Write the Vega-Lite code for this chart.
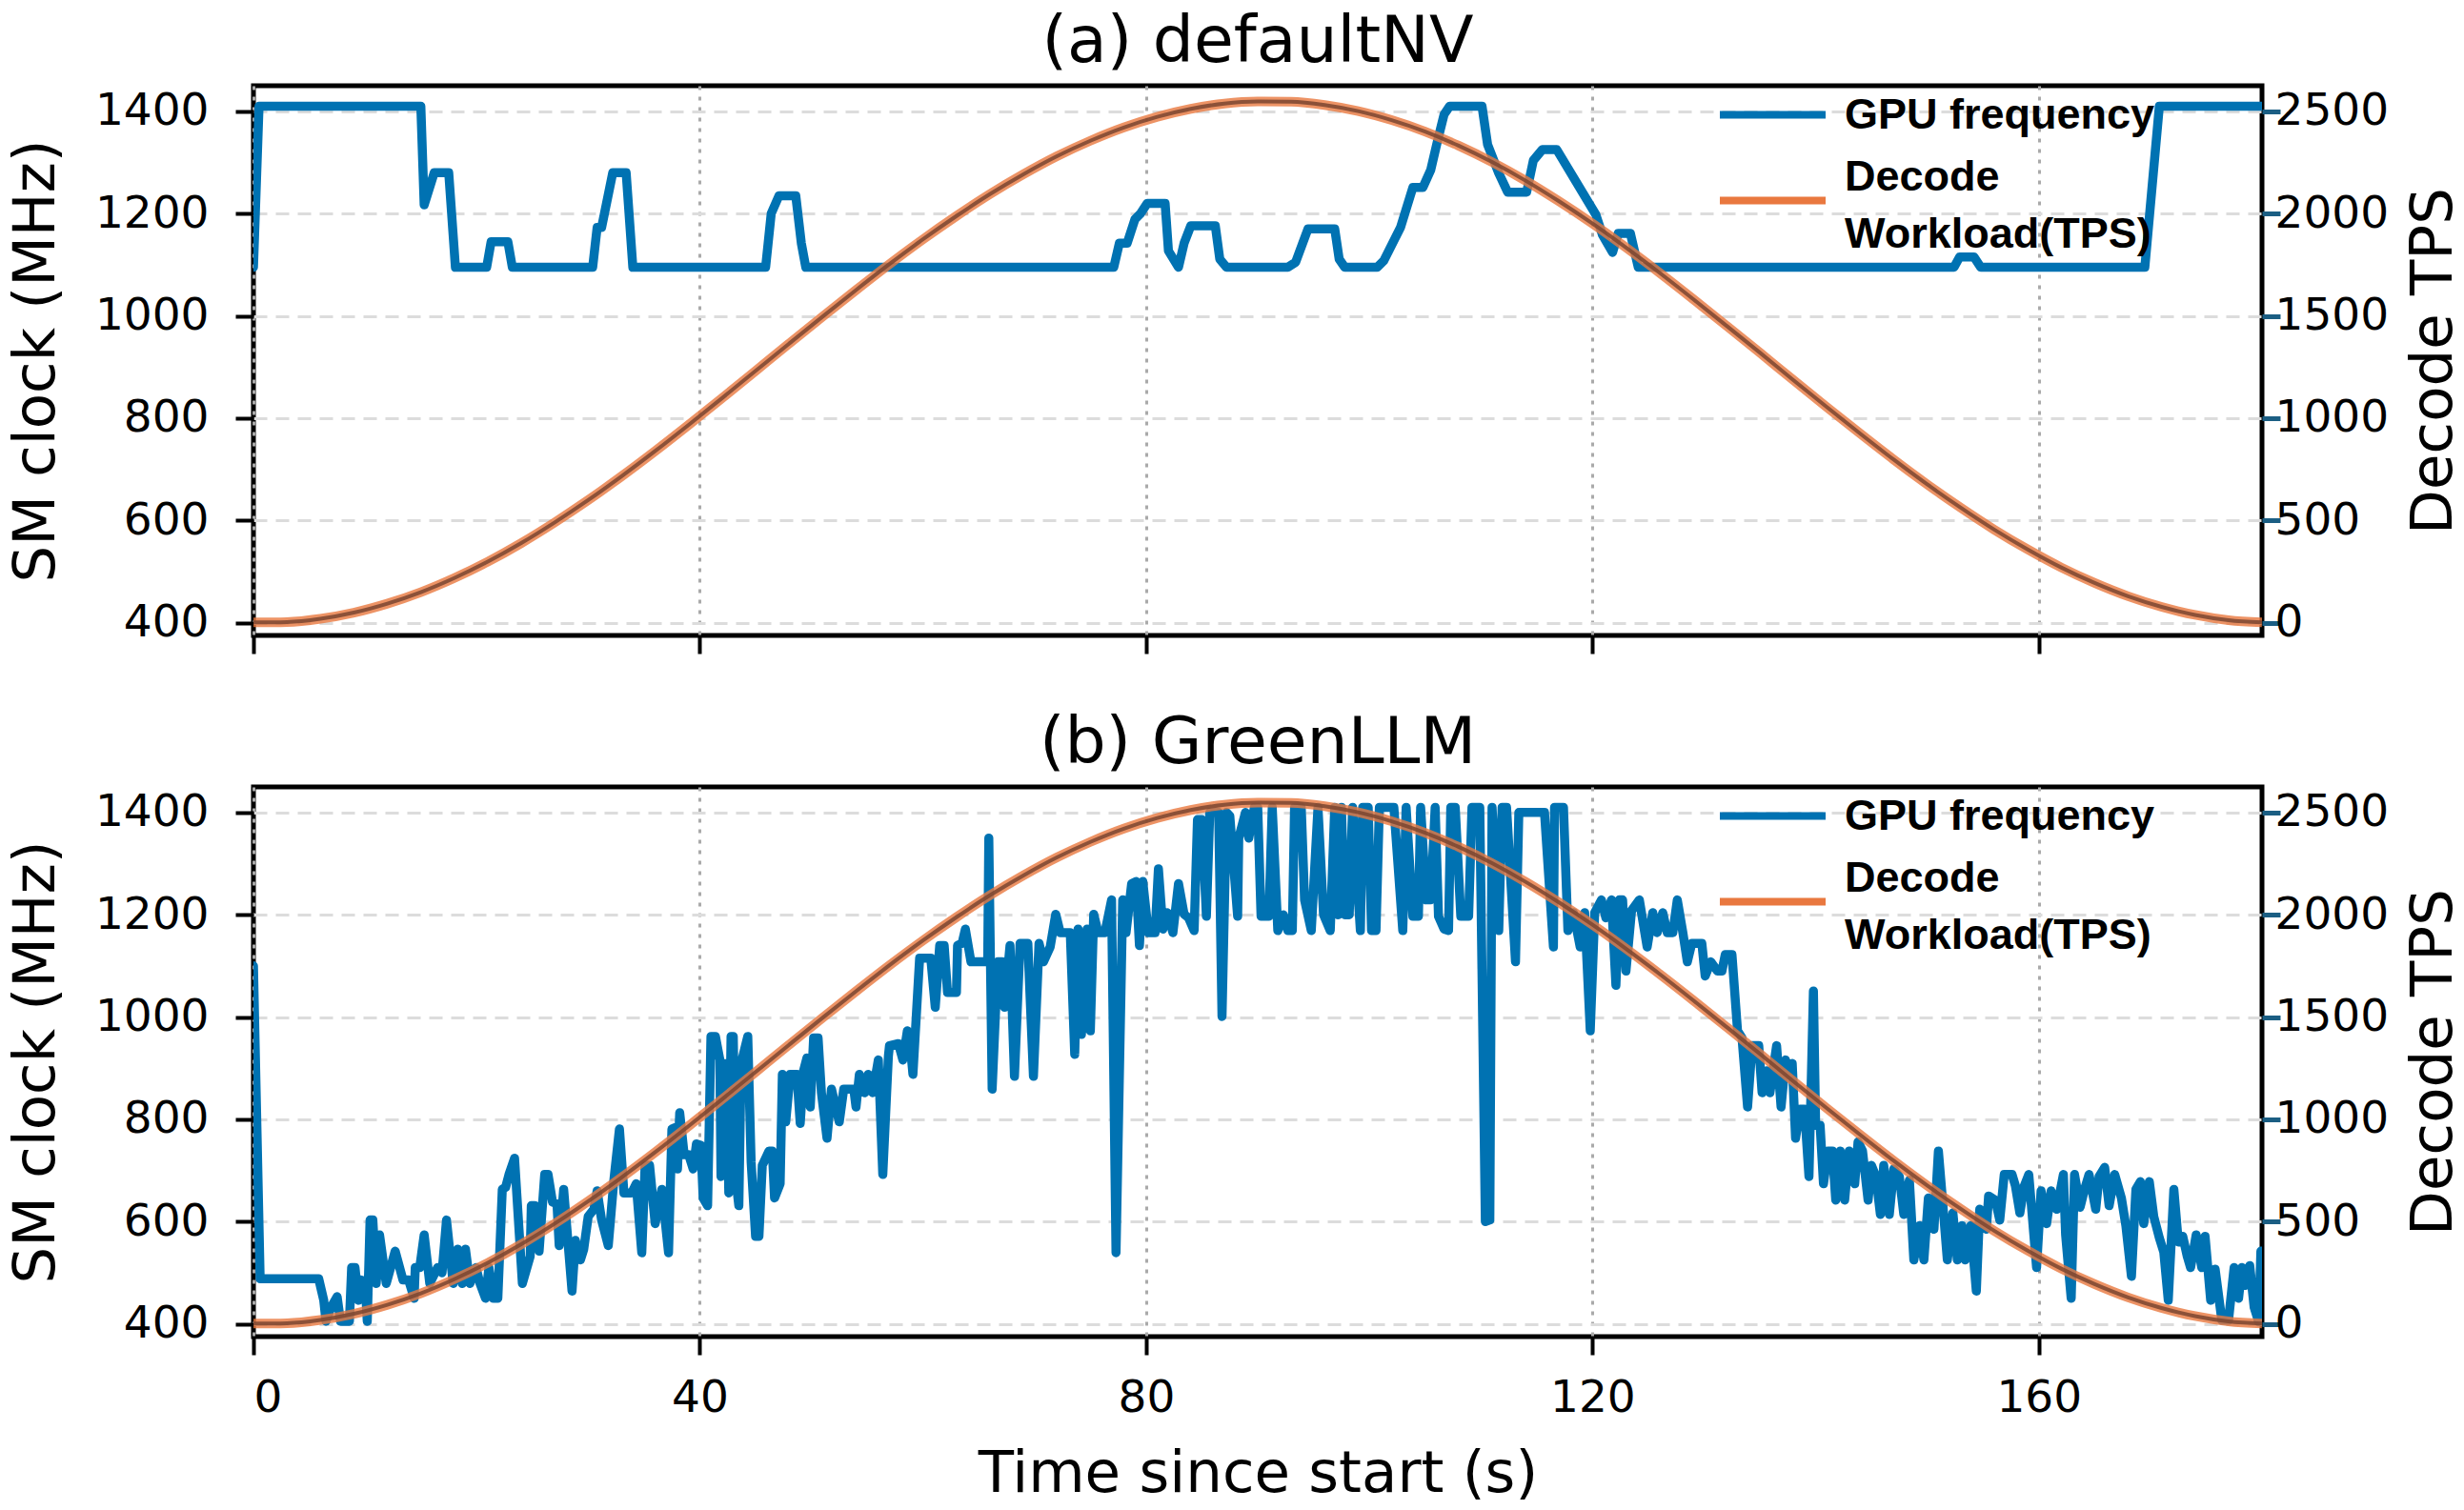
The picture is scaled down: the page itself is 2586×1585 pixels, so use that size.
{
  "$schema": "https://vega.github.io/schema/vega-lite/v6.json",
  "background": "white",
  "padding": {"left": 4, "top": 8, "right": 2, "bottom": 2},
  "config": {
    "font": "DejaVu Sans",
    "view": {"stroke": "black", "strokeWidth": 5},
    "axis": {"labelFont": "DejaVu Sans", "labelFontSize": 47, "labelColor": "black", "titleFont": "DejaVu Sans", "titleFontSize": 61, "titleFontWeight": "normal", "titleColor": "black", "tickColor": "black", "tickWidth": 4, "tickSize": 19, "domain": false, "format": "d"},
    "title": {"font": "DejaVu Sans", "fontSize": 68, "fontWeight": "normal", "color": "black", "frame": "group", "anchor": "middle", "baseline": "alphabetic", "offset": -18}
  },
  "datasets": {
    "a": [
      {"t": 0, "mhz": 1095}, {"t": 0.5, "mhz": 1410}, {"t": 15, "mhz": 1410}, {"t": 15.3, "mhz": 1217}, {"t": 16.2, "mhz": 1280}, {"t": 17.5, "mhz": 1280}, {"t": 18.1, "mhz": 1095}, {"t": 20.9, "mhz": 1095}, {"t": 21.3, "mhz": 1145}, {"t": 22.8, "mhz": 1145}, {"t": 23.2, "mhz": 1095}, {"t": 30.4, "mhz": 1095}, {"t": 30.8, "mhz": 1173}, {"t": 31.2, "mhz": 1173}, {"t": 32.2, "mhz": 1280}, {"t": 33.4, "mhz": 1280}, {"t": 34, "mhz": 1095}, {"t": 45.9, "mhz": 1095}, {"t": 46.4, "mhz": 1200}, {"t": 47.1, "mhz": 1235}, {"t": 48.6, "mhz": 1235}, {"t": 49.1, "mhz": 1142}, {"t": 49.5, "mhz": 1095}, {"t": 77.1, "mhz": 1095}, {"t": 77.6, "mhz": 1142}, {"t": 78.3, "mhz": 1142}, {"t": 79.0, "mhz": 1189}, {"t": 79.5, "mhz": 1200}, {"t": 80.1, "mhz": 1220}, {"t": 81.7, "mhz": 1220}, {"t": 82.0, "mhz": 1127}, {"t": 82.9, "mhz": 1095}, {"t": 83.4, "mhz": 1142}, {"t": 84.0, "mhz": 1176}, {"t": 86.2, "mhz": 1176}, {"t": 86.6, "mhz": 1111}, {"t": 87.2, "mhz": 1095}, {"t": 92.7, "mhz": 1095}, {"t": 93.4, "mhz": 1105}, {"t": 94.5, "mhz": 1170}, {"t": 96.9, "mhz": 1170}, {"t": 97.3, "mhz": 1111}, {"t": 97.8, "mhz": 1095}, {"t": 100.7, "mhz": 1095}, {"t": 101.3, "mhz": 1108}, {"t": 102.8, "mhz": 1173}, {"t": 103.9, "mhz": 1251}, {"t": 104.8, "mhz": 1251}, {"t": 105.5, "mhz": 1285}, {"t": 106.1, "mhz": 1341}, {"t": 106.7, "mhz": 1394}, {"t": 107.2, "mhz": 1410}, {"t": 110.1, "mhz": 1410}, {"t": 110.6, "mhz": 1335}, {"t": 111.6, "mhz": 1279}, {"t": 112.4, "mhz": 1242}, {"t": 114.1, "mhz": 1242}, {"t": 114.7, "mhz": 1304}, {"t": 115.5, "mhz": 1325}, {"t": 116.8, "mhz": 1325}, {"t": 120.3, "mhz": 1198}, {"t": 120.9, "mhz": 1158}, {"t": 121.8, "mhz": 1124}, {"t": 122.3, "mhz": 1161}, {"t": 123.4, "mhz": 1161}, {"t": 124.1, "mhz": 1095}, {"t": 152.4, "mhz": 1095}, {"t": 152.9, "mhz": 1115}, {"t": 154.2, "mhz": 1115}, {"t": 154.8, "mhz": 1095}, {"t": 169.5, "mhz": 1095}, {"t": 170.8, "mhz": 1410}, {"t": 180, "mhz": 1410}
    ],
    "b": [
      {"t": 0, "mhz": 1100}, {"t": 0.6, "mhz": 488}, {"t": 5.85, "mhz": 488}, {"t": 6.3, "mhz": 446}, {"t": 6.5, "mhz": 405}, {"t": 6.95, "mhz": 432}, {"t": 7.5, "mhz": 453}, {"t": 7.8, "mhz": 405}, {"t": 8.6, "mhz": 405}, {"t": 8.8, "mhz": 510}, {"t": 9.1, "mhz": 510}, {"t": 9.4, "mhz": 446}, {"t": 9.6, "mhz": 486}, {"t": 10.0, "mhz": 483}, {"t": 10.2, "mhz": 405}, {"t": 10.45, "mhz": 603}, {"t": 10.7, "mhz": 603}, {"t": 11.0, "mhz": 479}, {"t": 11.3, "mhz": 574}, {"t": 11.9, "mhz": 479}, {"t": 12.7, "mhz": 542}, {"t": 13.4, "mhz": 486}, {"t": 13.9, "mhz": 486}, {"t": 14.4, "mhz": 450}, {"t": 14.5, "mhz": 510}, {"t": 14.9, "mhz": 510}, {"t": 15.3, "mhz": 574}, {"t": 15.8, "mhz": 479}, {"t": 16.5, "mhz": 510}, {"t": 16.9, "mhz": 500}, {"t": 17.3, "mhz": 603}, {"t": 17.9, "mhz": 479}, {"t": 18.3, "mhz": 546}, {"t": 18.7, "mhz": 479}, {"t": 19.0, "mhz": 546}, {"t": 19.4, "mhz": 479}, {"t": 19.95, "mhz": 510}, {"t": 20.3, "mhz": 479}, {"t": 20.8, "mhz": 450}, {"t": 21.1, "mhz": 510}, {"t": 21.5, "mhz": 450}, {"t": 21.9, "mhz": 450}, {"t": 22.3, "mhz": 663}, {"t": 22.6, "mhz": 667}, {"t": 22.9, "mhz": 692}, {"t": 23.4, "mhz": 724}, {"t": 24.1, "mhz": 479}, {"t": 24.8, "mhz": 532}, {"t": 24.9, "mhz": 631}, {"t": 25.2, "mhz": 631}, {"t": 25.6, "mhz": 542}, {"t": 26.1, "mhz": 692}, {"t": 26.4, "mhz": 692}, {"t": 26.8, "mhz": 638}, {"t": 27.2, "mhz": 635}, {"t": 27.4, "mhz": 553}, {"t": 27.8, "mhz": 663}, {"t": 28.55, "mhz": 464}, {"t": 28.85, "mhz": 563}, {"t": 29.3, "mhz": 525}, {"t": 29.6, "mhz": 546}, {"t": 30.0, "mhz": 610}, {"t": 30.5, "mhz": 624}, {"t": 30.8, "mhz": 660}, {"t": 31.2, "mhz": 603}, {"t": 31.8, "mhz": 553}, {"t": 32.3, "mhz": 681}, {"t": 32.8, "mhz": 781}, {"t": 33.2, "mhz": 656}, {"t": 33.9, "mhz": 656}, {"t": 34.3, "mhz": 674}, {"t": 34.8, "mhz": 539}, {"t": 35.1, "mhz": 710}, {"t": 35.5, "mhz": 710}, {"t": 36.0, "mhz": 596}, {"t": 36.6, "mhz": 663}, {"t": 37.2, "mhz": 539}, {"t": 37.5, "mhz": 781}, {"t": 37.8, "mhz": 784}, {"t": 38.0, "mhz": 703}, {"t": 38.2, "mhz": 813}, {"t": 38.6, "mhz": 731}, {"t": 39.0, "mhz": 731}, {"t": 39.4, "mhz": 703}, {"t": 39.7, "mhz": 752}, {"t": 40.1, "mhz": 749}, {"t": 40.3, "mhz": 646}, {"t": 40.7, "mhz": 631}, {"t": 41.0, "mhz": 962}, {"t": 41.4, "mhz": 962}, {"t": 41.8, "mhz": 916}, {"t": 41.9, "mhz": 688}, {"t": 42.1, "mhz": 909}, {"t": 42.4, "mhz": 909}, {"t": 42.6, "mhz": 656}, {"t": 42.8, "mhz": 962}, {"t": 43.0, "mhz": 962}, {"t": 43.2, "mhz": 688}, {"t": 43.5, "mhz": 631}, {"t": 43.7, "mhz": 909}, {"t": 44.3, "mhz": 962}, {"t": 44.6, "mhz": 717}, {"t": 45.0, "mhz": 571}, {"t": 45.3, "mhz": 571}, {"t": 45.6, "mhz": 710}, {"t": 46.2, "mhz": 738}, {"t": 46.5, "mhz": 738}, {"t": 46.7, "mhz": 646}, {"t": 47.2, "mhz": 674}, {"t": 47.4, "mhz": 888}, {"t": 47.7, "mhz": 795}, {"t": 48.1, "mhz": 888}, {"t": 48.7, "mhz": 888}, {"t": 49.0, "mhz": 792}, {"t": 49.3, "mhz": 895}, {"t": 49.6, "mhz": 920}, {"t": 49.9, "mhz": 824}, {"t": 50.2, "mhz": 959}, {"t": 50.6, "mhz": 959}, {"t": 50.9, "mhz": 852}, {"t": 51.4, "mhz": 763}, {"t": 51.8, "mhz": 859}, {"t": 52.5, "mhz": 795}, {"t": 52.9, "mhz": 859}, {"t": 53.8, "mhz": 859}, {"t": 54.0, "mhz": 824}, {"t": 54.3, "mhz": 888}, {"t": 54.8, "mhz": 852}, {"t": 55.1, "mhz": 888}, {"t": 55.5, "mhz": 852}, {"t": 56.0, "mhz": 916}, {"t": 56.4, "mhz": 692}, {"t": 56.9, "mhz": 923}, {"t": 57.0, "mhz": 944}, {"t": 57.8, "mhz": 948}, {"t": 58.2, "mhz": 916}, {"t": 58.6, "mhz": 973}, {"t": 58.8, "mhz": 959}, {"t": 59.1, "mhz": 888}, {"t": 59.7, "mhz": 1115}, {"t": 60.7, "mhz": 1115}, {"t": 61.1, "mhz": 1019}, {"t": 61.5, "mhz": 1140}, {"t": 61.9, "mhz": 1140}, {"t": 62.2, "mhz": 1048}, {"t": 63.0, "mhz": 1048}, {"t": 63.1, "mhz": 1140}, {"t": 63.5, "mhz": 1144}, {"t": 63.8, "mhz": 1172}, {"t": 64.3, "mhz": 1108}, {"t": 65.8, "mhz": 1108}, {"t": 65.9, "mhz": 1350}, {"t": 66.2, "mhz": 859}, {"t": 66.7, "mhz": 1108}, {"t": 67.1, "mhz": 1108}, {"t": 67.3, "mhz": 1019}, {"t": 67.8, "mhz": 1140}, {"t": 68.2, "mhz": 884}, {"t": 68.7, "mhz": 1144}, {"t": 69.4, "mhz": 1144}, {"t": 69.9, "mhz": 884}, {"t": 70.4, "mhz": 1144}, {"t": 70.8, "mhz": 1108}, {"t": 71.4, "mhz": 1137}, {"t": 71.9, "mhz": 1201}, {"t": 72.3, "mhz": 1165}, {"t": 73.2, "mhz": 1165}, {"t": 73.6, "mhz": 927}, {"t": 73.9, "mhz": 1172}, {"t": 74.2, "mhz": 966}, {"t": 74.7, "mhz": 1172}, {"t": 75.0, "mhz": 973}, {"t": 75.3, "mhz": 1201}, {"t": 75.7, "mhz": 1165}, {"t": 76.3, "mhz": 1165}, {"t": 76.9, "mhz": 1229}, {"t": 77.3, "mhz": 539}, {"t": 77.9, "mhz": 1229}, {"t": 78.2, "mhz": 1165}, {"t": 78.7, "mhz": 1261}, {"t": 79.1, "mhz": 1265}, {"t": 79.4, "mhz": 1140}, {"t": 79.7, "mhz": 1265}, {"t": 80.2, "mhz": 1165}, {"t": 80.8, "mhz": 1165}, {"t": 81.1, "mhz": 1290}, {"t": 81.5, "mhz": 1172}, {"t": 81.9, "mhz": 1204}, {"t": 82.4, "mhz": 1165}, {"t": 82.9, "mhz": 1261}, {"t": 83.4, "mhz": 1201}, {"t": 83.8, "mhz": 1194}, {"t": 84.3, "mhz": 1169}, {"t": 84.6, "mhz": 1386}, {"t": 85.0, "mhz": 1386}, {"t": 85.4, "mhz": 1197}, {"t": 85.7, "mhz": 1400}, {"t": 86.5, "mhz": 1400}, {"t": 86.8, "mhz": 1001}, {"t": 87.2, "mhz": 1400}, {"t": 87.5, "mhz": 1393}, {"t": 88.2, "mhz": 1197}, {"t": 88.3, "mhz": 1350}, {"t": 88.9, "mhz": 1400}, {"t": 89.2, "mhz": 1350}, {"t": 89.7, "mhz": 1410}, {"t": 90.0, "mhz": 1410}, {"t": 90.3, "mhz": 1197}, {"t": 91.0, "mhz": 1197}, {"t": 91.3, "mhz": 1410}, {"t": 91.8, "mhz": 1169}, {"t": 92.3, "mhz": 1200}, {"t": 92.7, "mhz": 1169}, {"t": 93.1, "mhz": 1169}, {"t": 93.3, "mhz": 1410}, {"t": 93.9, "mhz": 1410}, {"t": 94.2, "mhz": 1229}, {"t": 94.8, "mhz": 1169}, {"t": 95.4, "mhz": 1410}, {"t": 95.9, "mhz": 1200}, {"t": 96.5, "mhz": 1169}, {"t": 96.9, "mhz": 1410}, {"t": 97.2, "mhz": 1200}, {"t": 97.5, "mhz": 1410}, {"t": 97.8, "mhz": 1200}, {"t": 98.2, "mhz": 1200}, {"t": 98.5, "mhz": 1410}, {"t": 99.2, "mhz": 1169}, {"t": 99.4, "mhz": 1410}, {"t": 99.9, "mhz": 1410}, {"t": 100.2, "mhz": 1169}, {"t": 100.6, "mhz": 1169}, {"t": 100.9, "mhz": 1410}, {"t": 102.2, "mhz": 1410}, {"t": 103.0, "mhz": 1169}, {"t": 103.3, "mhz": 1410}, {"t": 103.9, "mhz": 1197}, {"t": 104.4, "mhz": 1197}, {"t": 104.6, "mhz": 1410}, {"t": 105.1, "mhz": 1229}, {"t": 105.5, "mhz": 1229}, {"t": 105.9, "mhz": 1410}, {"t": 106.2, "mhz": 1197}, {"t": 106.7, "mhz": 1172}, {"t": 107.1, "mhz": 1169}, {"t": 107.3, "mhz": 1410}, {"t": 107.7, "mhz": 1410}, {"t": 108.2, "mhz": 1197}, {"t": 108.9, "mhz": 1197}, {"t": 109.2, "mhz": 1410}, {"t": 109.9, "mhz": 1410}, {"t": 110.4, "mhz": 600}, {"t": 110.8, "mhz": 603}, {"t": 111.0, "mhz": 1410}, {"t": 111.6, "mhz": 1169}, {"t": 111.9, "mhz": 1410}, {"t": 112.3, "mhz": 1410}, {"t": 113.1, "mhz": 1108}, {"t": 113.4, "mhz": 1400}, {"t": 115.7, "mhz": 1400}, {"t": 116.5, "mhz": 1137}, {"t": 116.6, "mhz": 1410}, {"t": 117.4, "mhz": 1410}, {"t": 117.8, "mhz": 1169}, {"t": 118.3, "mhz": 1204}, {"t": 118.9, "mhz": 1137}, {"t": 119.3, "mhz": 1204}, {"t": 119.8, "mhz": 973}, {"t": 120.2, "mhz": 1204}, {"t": 120.8, "mhz": 1229}, {"t": 121.2, "mhz": 1194}, {"t": 121.7, "mhz": 1229}, {"t": 122.1, "mhz": 1062}, {"t": 122.4, "mhz": 1229}, {"t": 122.7, "mhz": 1229}, {"t": 123.0, "mhz": 1090}, {"t": 123.5, "mhz": 1208}, {"t": 124.2, "mhz": 1229}, {"t": 124.9, "mhz": 1137}, {"t": 125.4, "mhz": 1204}, {"t": 125.8, "mhz": 1165}, {"t": 126.3, "mhz": 1204}, {"t": 126.7, "mhz": 1165}, {"t": 127.2, "mhz": 1165}, {"t": 127.6, "mhz": 1229}, {"t": 128.1, "mhz": 1165}, {"t": 128.5, "mhz": 1108}, {"t": 128.9, "mhz": 1144}, {"t": 129.8, "mhz": 1144}, {"t": 130.1, "mhz": 1080}, {"t": 130.6, "mhz": 1108}, {"t": 131.2, "mhz": 1090}, {"t": 131.6, "mhz": 1090}, {"t": 131.9, "mhz": 1122}, {"t": 132.5, "mhz": 1122}, {"t": 133.0, "mhz": 973}, {"t": 133.4, "mhz": 959}, {"t": 133.9, "mhz": 824}, {"t": 134.3, "mhz": 944}, {"t": 134.9, "mhz": 944}, {"t": 135.2, "mhz": 852}, {"t": 135.6, "mhz": 895}, {"t": 135.9, "mhz": 852}, {"t": 136.5, "mhz": 944}, {"t": 136.9, "mhz": 824}, {"t": 137.3, "mhz": 916}, {"t": 137.6, "mhz": 888}, {"t": 137.9, "mhz": 909}, {"t": 138.2, "mhz": 763}, {"t": 138.6, "mhz": 820}, {"t": 139.0, "mhz": 820}, {"t": 139.4, "mhz": 688}, {"t": 139.8, "mhz": 1051}, {"t": 140.0, "mhz": 788}, {"t": 140.4, "mhz": 788}, {"t": 140.7, "mhz": 674}, {"t": 141.1, "mhz": 738}, {"t": 141.5, "mhz": 738}, {"t": 141.8, "mhz": 642}, {"t": 142.2, "mhz": 738}, {"t": 142.6, "mhz": 642}, {"t": 143.0, "mhz": 738}, {"t": 143.5, "mhz": 674}, {"t": 143.8, "mhz": 756}, {"t": 144.2, "mhz": 738}, {"t": 144.7, "mhz": 642}, {"t": 145.0, "mhz": 710}, {"t": 145.4, "mhz": 688}, {"t": 145.8, "mhz": 614}, {"t": 146.1, "mhz": 710}, {"t": 146.6, "mhz": 614}, {"t": 147.0, "mhz": 703}, {"t": 147.5, "mhz": 688}, {"t": 147.9, "mhz": 614}, {"t": 148.4, "mhz": 681}, {"t": 148.8, "mhz": 525}, {"t": 149.3, "mhz": 592}, {"t": 149.7, "mhz": 525}, {"t": 150.1, "mhz": 646}, {"t": 150.6, "mhz": 585}, {"t": 151.0, "mhz": 738}, {"t": 151.3, "mhz": 660}, {"t": 151.8, "mhz": 525}, {"t": 152.3, "mhz": 617}, {"t": 152.7, "mhz": 525}, {"t": 153.1, "mhz": 592}, {"t": 153.4, "mhz": 525}, {"t": 153.9, "mhz": 592}, {"t": 154.4, "mhz": 464}, {"t": 154.7, "mhz": 624}, {"t": 155.3, "mhz": 585}, {"t": 155.5, "mhz": 650}, {"t": 156.1, "mhz": 642}, {"t": 156.5, "mhz": 603}, {"t": 156.9, "mhz": 692}, {"t": 157.6, "mhz": 692}, {"t": 157.9, "mhz": 670}, {"t": 158.3, "mhz": 617}, {"t": 158.7, "mhz": 670}, {"t": 159.1, "mhz": 692}, {"t": 159.4, "mhz": 614}, {"t": 159.8, "mhz": 510}, {"t": 160.2, "mhz": 660}, {"t": 160.7, "mhz": 596}, {"t": 161.1, "mhz": 660}, {"t": 161.6, "mhz": 624}, {"t": 162.2, "mhz": 692}, {"t": 162.4, "mhz": 574}, {"t": 162.9, "mhz": 450}, {"t": 163.2, "mhz": 692}, {"t": 163.7, "mhz": 628}, {"t": 164.1, "mhz": 663}, {"t": 164.5, "mhz": 692}, {"t": 165.1, "mhz": 624}, {"t": 165.4, "mhz": 688}, {"t": 165.9, "mhz": 706}, {"t": 166.3, "mhz": 631}, {"t": 166.8, "mhz": 692}, {"t": 167.4, "mhz": 646}, {"t": 167.8, "mhz": 592}, {"t": 168.3, "mhz": 493}, {"t": 168.7, "mhz": 663}, {"t": 169.1, "mhz": 678}, {"t": 169.4, "mhz": 596}, {"t": 169.9, "mhz": 678}, {"t": 170.3, "mhz": 610}, {"t": 170.8, "mhz": 568}, {"t": 171.2, "mhz": 540}, {"t": 171.6, "mhz": 446}, {"t": 172.1, "mhz": 663}, {"t": 172.5, "mhz": 560}, {"t": 172.9, "mhz": 571}, {"t": 173.3, "mhz": 532}, {"t": 173.6, "mhz": 510}, {"t": 174.1, "mhz": 574}, {"t": 174.6, "mhz": 510}, {"t": 174.9, "mhz": 571}, {"t": 175.4, "mhz": 446}, {"t": 175.8, "mhz": 507}, {"t": 176.4, "mhz": 407}, {"t": 177.0, "mhz": 407}, {"t": 177.5, "mhz": 510}, {"t": 177.9, "mhz": 450}, {"t": 178.2, "mhz": 510}, {"t": 178.5, "mhz": 475}, {"t": 178.9, "mhz": 514}, {"t": 179.3, "mhz": 432}, {"t": 179.7, "mhz": 404}, {"t": 179.9, "mhz": 542}, {"t": 180, "mhz": 542}
    ],
    "tps": [
      {"t": 0, "tps": 1}, {"t": 3, "tps": 3}, {"t": 6, "tps": 19}, {"t": 9, "tps": 49}, {"t": 12, "tps": 93}, {"t": 15, "tps": 149}, {"t": 18, "tps": 218}, {"t": 21, "tps": 298}, {"t": 24, "tps": 389}, {"t": 27, "tps": 490}, {"t": 30, "tps": 599}, {"t": 33, "tps": 716}, {"t": 36, "tps": 839}, {"t": 39, "tps": 967}, {"t": 42, "tps": 1098}, {"t": 45, "tps": 1231}, {"t": 48, "tps": 1364}, {"t": 51, "tps": 1496}, {"t": 54, "tps": 1626}, {"t": 57, "tps": 1753}, {"t": 60, "tps": 1874}, {"t": 63, "tps": 1988}, {"t": 66, "tps": 2095}, {"t": 69, "tps": 2192}, {"t": 72, "tps": 2280}, {"t": 75, "tps": 2356}, {"t": 78, "tps": 2421}, {"t": 81, "tps": 2473}, {"t": 84, "tps": 2512}, {"t": 87, "tps": 2538}, {"t": 90, "tps": 2548}, {"t": 93, "tps": 2547}, {"t": 96, "tps": 2531}, {"t": 99, "tps": 2501}, {"t": 102, "tps": 2457}, {"t": 105, "tps": 2401}, {"t": 108, "tps": 2332}, {"t": 111, "tps": 2252}, {"t": 114, "tps": 2161}, {"t": 117, "tps": 2060}, {"t": 120, "tps": 1951}, {"t": 123, "tps": 1834}, {"t": 126, "tps": 1711}, {"t": 129, "tps": 1583}, {"t": 132, "tps": 1452}, {"t": 135, "tps": 1320}, {"t": 138, "tps": 1186}, {"t": 141, "tps": 1054}, {"t": 144, "tps": 924}, {"t": 147, "tps": 797}, {"t": 150, "tps": 676}, {"t": 153, "tps": 562}, {"t": 156, "tps": 455}, {"t": 159, "tps": 358}, {"t": 162, "tps": 270}, {"t": 165, "tps": 194}, {"t": 168, "tps": 129}, {"t": 171, "tps": 77}, {"t": 174, "tps": 38}, {"t": 177, "tps": 12}, {"t": 180, "tps": 1}
    ]
  },
  "spacing": 53,
  "resolve": {"scale": {"color": "independent"}, "legend": {"color": "independent"}},
  "vconcat": [
    {
      "title": {"text": "(a) defaultNV"},
      "width": 2108,
      "height": 577,
      "resolve": {"scale": {"y": "independent"}},
      "layer": [
        {
          "data": {"name": "a"},
          "mark": {"type": "line", "strokeWidth": 9.5, "strokeJoin": "round", "strokeCap": "round", "clip": true},
          "encoding": {
            "x": {"field": "t", "type": "quantitative", "scale": {"domain": [0, 180], "nice": false, "zero": false}, "axis": {"values": [0, 40, 80, 120, 160], "labels": false, "title": null, "grid": true, "gridDash": [4, 7], "gridColor": "#aaaaaa", "gridWidth": 3}},
            "y": {"field": "mhz", "type": "quantitative", "scale": {"domain": [375, 1450], "nice": false, "zero": false}, "axis": {"orient": "left", "title": "SM clock (MHz)", "values": [400, 600, 800, 1000, 1200, 1400], "labelPadding": 28, "titlePadding": 30, "grid": true, "gridDash": [14, 9], "gridColor": "#dcdcdc", "gridWidth": 3}},
            "color": {
              "datum": "GPU frequency",
              "scale": {"domain": ["GPU frequency", "Decode Workload(TPS)"], "range": ["#0072B2", "#E9783F"]},
              "legend": {"orient": "none", "legendX": 1535, "legendY": -29, "title": null, "padding": 0, "symbolType": "stroke", "symbolSize": 12321, "symbolStrokeWidth": 8, "labelFont": "Liberation Sans", "labelFontWeight": "bold", "labelFontSize": 45, "labelColor": "black", "labelOffset": 16, "labelLimit": 1000, "rowPadding": 7,
                "labelExpr": "datum.label == 'Decode Workload(TPS)' ? ['Decode', 'Workload(TPS)'] : datum.label",
                "encode": {"symbols": {"update": {"stroke": {"signal": "datum.value == 'GPU frequency' ? '#1B5E83' : '#E8702F'"}, "opacity": {"value": 1}, "strokeWidth": {"value": 8}}}, "labels": {"update": {"lineHeight": {"value": 60}, "dy": {"signal": "datum.value == 'GPU frequency' ? 0 : -25"}}}}
              }
            }
          }
        },
        {
          "layer": [
            {
              "data": {"name": "tps"},
              "mark": {"type": "line", "strokeWidth": 10, "opacity": 0.8, "interpolate": "monotone", "clip": true},
              "encoding": {
                "x": {"field": "t", "type": "quantitative", "scale": {"domain": [0, 180], "nice": false, "zero": false}},
                "y": {"field": "tps", "type": "quantitative", "scale": {"domain": [-62.5, 2625], "nice": false, "zero": false}, "axis": {"orient": "right", "title": "Decode TPS", "values": [0, 500, 1000, 1500, 2000, 2500], "tickColor": "#1B5E83", "tickWidth": 5, "labelPadding": -6, "titleAngle": 270, "titleBaseline": "top", "titlePadding": 18, "grid": false}},
                "color": {"datum": "Decode Workload(TPS)"}
              }
            },
            {
              "data": {"name": "tps"},
              "mark": {"type": "line", "strokeWidth": 4, "color": "#7A4530", "opacity": 0.85, "interpolate": "monotone", "clip": true},
              "encoding": {
                "x": {"field": "t", "type": "quantitative", "scale": {"domain": [0, 180], "nice": false, "zero": false}},
                "y": {"field": "tps", "type": "quantitative", "scale": {"domain": [-62.5, 2625], "nice": false, "zero": false}, "axis": {"orient": "right", "title": "Decode TPS", "values": [0, 500, 1000, 1500, 2000, 2500], "tickColor": "#1B5E83", "tickWidth": 5, "labelPadding": -6, "titleAngle": 270, "titleBaseline": "top", "titlePadding": 18, "grid": false}}
              }
            }
          ]
        }
      ]
    },
    {
      "title": {"text": "(b) GreenLLM"},
      "width": 2108,
      "height": 577,
      "resolve": {"scale": {"y": "independent"}},
      "layer": [
        {
          "data": {"name": "b"},
          "mark": {"type": "line", "strokeWidth": 9.5, "strokeJoin": "round", "strokeCap": "round", "clip": true},
          "encoding": {
            "x": {"field": "t", "type": "quantitative", "scale": {"domain": [0, 180], "nice": false, "zero": false}, "axis": {"values": [0, 40, 80, 120, 160], "title": "Time since start (s)", "labelPadding": 22, "titlePadding": 27, "grid": true, "gridDash": [4, 7], "gridColor": "#aaaaaa", "gridWidth": 3}},
            "y": {"field": "mhz", "type": "quantitative", "scale": {"domain": [375, 1450], "nice": false, "zero": false}, "axis": {"orient": "left", "title": "SM clock (MHz)", "values": [400, 600, 800, 1000, 1200, 1400], "labelPadding": 28, "titlePadding": 30, "grid": true, "gridDash": [14, 9], "gridColor": "#dcdcdc", "gridWidth": 3}},
            "color": {
              "datum": "GPU frequency",
              "scale": {"domain": ["GPU frequency", "Decode Workload(TPS)"], "range": ["#0072B2", "#E9783F"]},
              "legend": {"orient": "none", "legendX": 1535, "legendY": -29, "title": null, "padding": 0, "symbolType": "stroke", "symbolSize": 12321, "symbolStrokeWidth": 8, "labelFont": "Liberation Sans", "labelFontWeight": "bold", "labelFontSize": 45, "labelColor": "black", "labelOffset": 16, "labelLimit": 1000, "rowPadding": 7,
                "labelExpr": "datum.label == 'Decode Workload(TPS)' ? ['Decode', 'Workload(TPS)'] : datum.label",
                "encode": {"symbols": {"update": {"stroke": {"signal": "datum.value == 'GPU frequency' ? '#1B5E83' : '#E8702F'"}, "opacity": {"value": 1}, "strokeWidth": {"value": 8}}}, "labels": {"update": {"lineHeight": {"value": 60}, "dy": {"signal": "datum.value == 'GPU frequency' ? 0 : -25"}}}}
              }
            }
          }
        },
        {
          "layer": [
            {
              "data": {"name": "tps"},
              "mark": {"type": "line", "strokeWidth": 10, "opacity": 0.8, "interpolate": "monotone", "clip": true},
              "encoding": {
                "x": {"field": "t", "type": "quantitative", "scale": {"domain": [0, 180], "nice": false, "zero": false}},
                "y": {"field": "tps", "type": "quantitative", "scale": {"domain": [-62.5, 2625], "nice": false, "zero": false}, "axis": {"orient": "right", "title": "Decode TPS", "values": [0, 500, 1000, 1500, 2000, 2500], "tickColor": "#1B5E83", "tickWidth": 5, "labelPadding": -6, "titleAngle": 270, "titleBaseline": "top", "titlePadding": 18, "grid": false}},
                "color": {"datum": "Decode Workload(TPS)"}
              }
            },
            {
              "data": {"name": "tps"},
              "mark": {"type": "line", "strokeWidth": 4, "color": "#7A4530", "opacity": 0.85, "interpolate": "monotone", "clip": true},
              "encoding": {
                "x": {"field": "t", "type": "quantitative", "scale": {"domain": [0, 180], "nice": false, "zero": false}},
                "y": {"field": "tps", "type": "quantitative", "scale": {"domain": [-62.5, 2625], "nice": false, "zero": false}, "axis": {"orient": "right", "title": "Decode TPS", "values": [0, 500, 1000, 1500, 2000, 2500], "tickColor": "#1B5E83", "tickWidth": 5, "labelPadding": -6, "titleAngle": 270, "titleBaseline": "top", "titlePadding": 18, "grid": false}}
              }
            }
          ]
        }
      ]
    }
  ]
}
